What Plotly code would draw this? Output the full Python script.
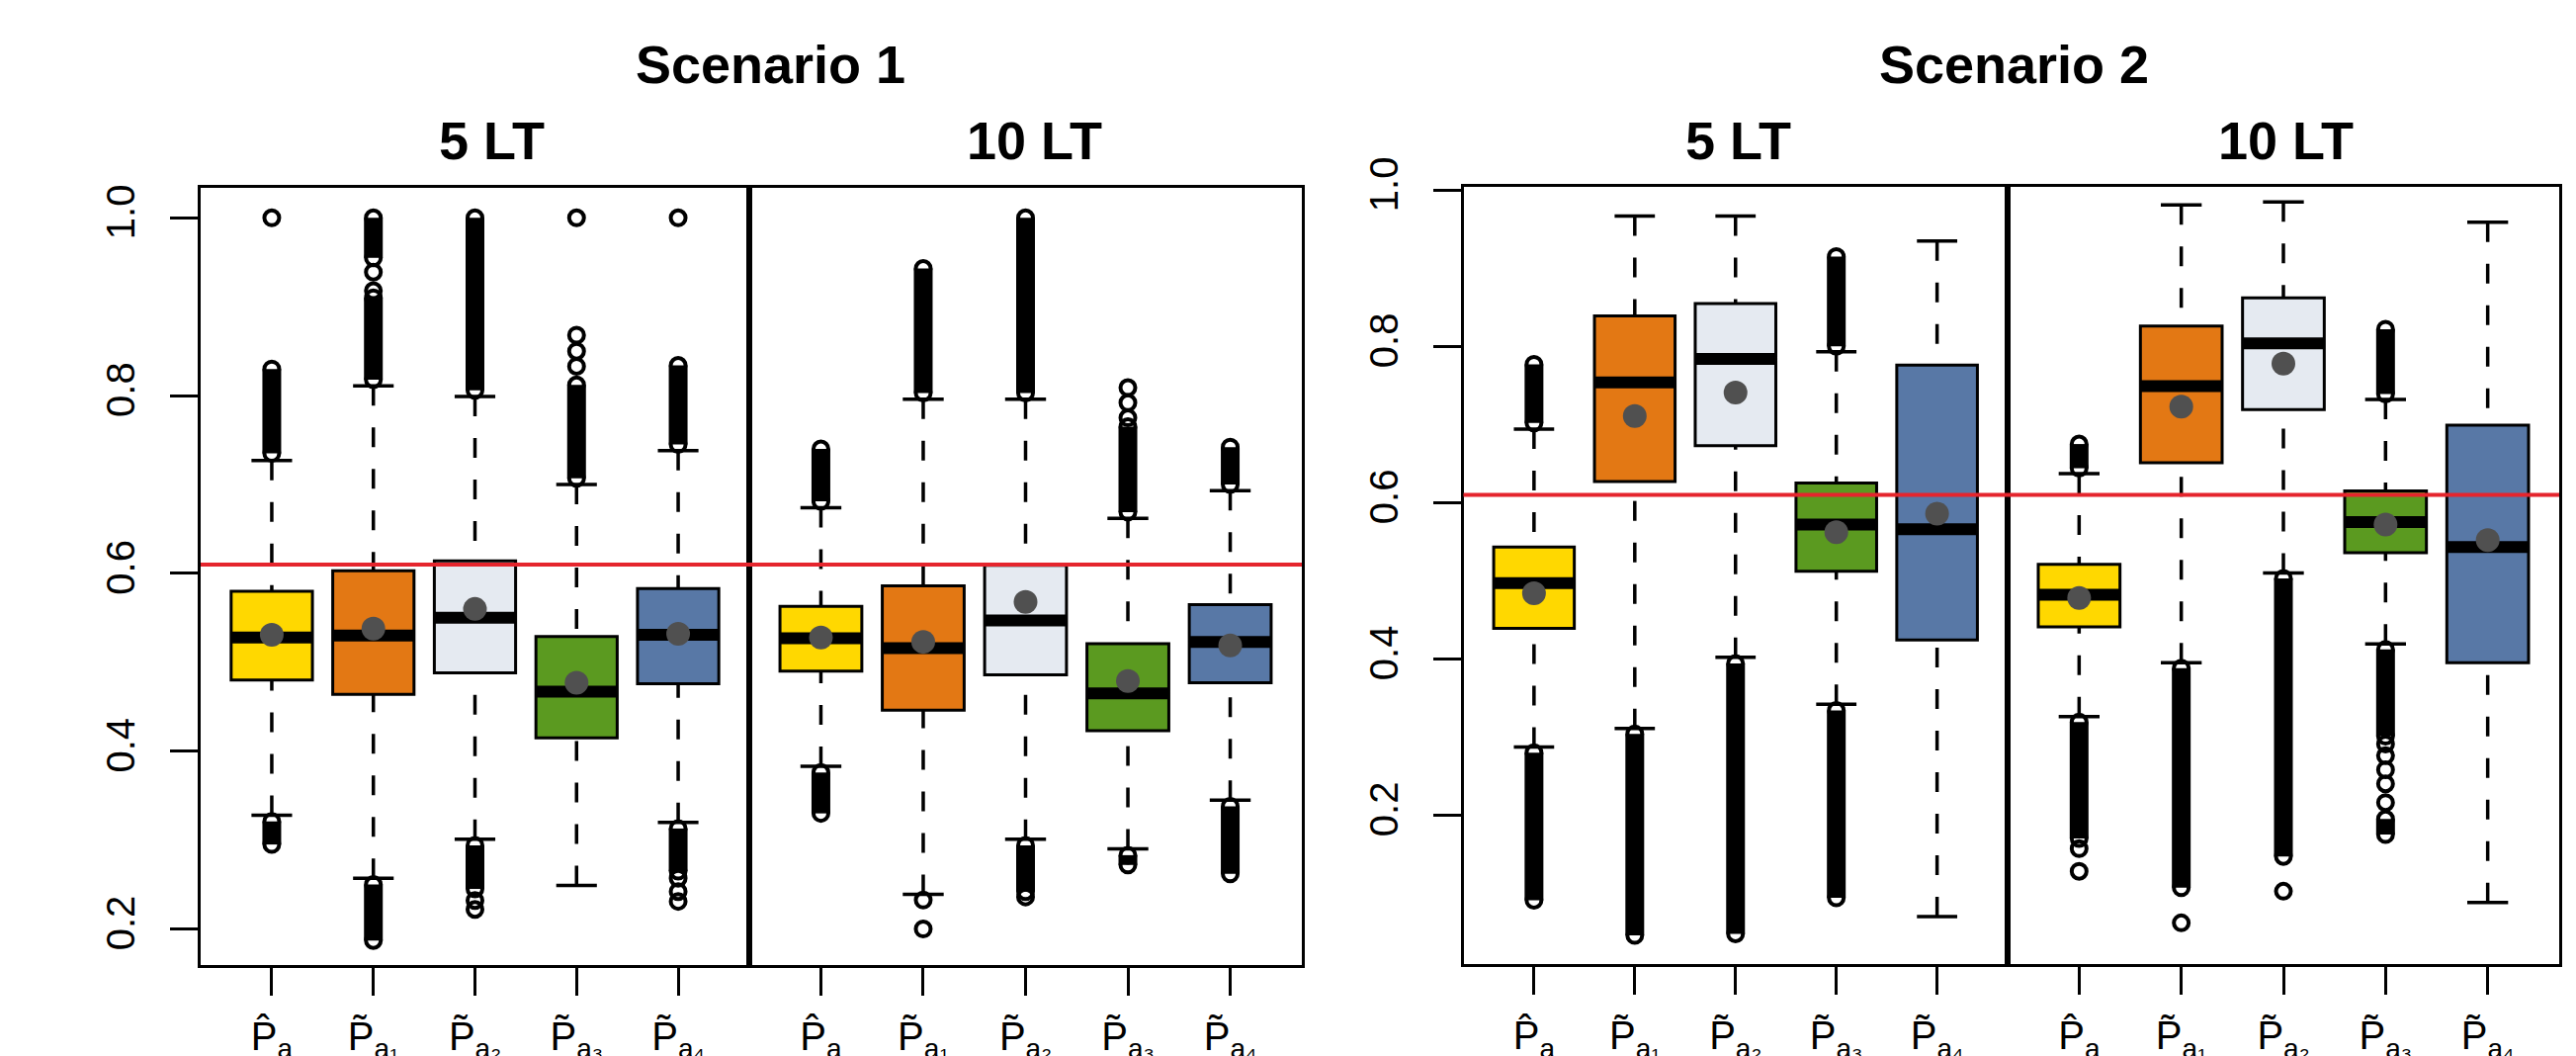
import plotly.graph_objects as go

W, H = 2606, 1068

# ---------------- data ----------------
POSITIONS = [1, 2, 3, 4, 5]
TICK_LABELS = ["P\u0302<sub>a</sub>", "P\u0303<sub>a\u2081</sub>", "P\u0303<sub>a\u2082</sub>",
               "P\u0303<sub>a\u2083</sub>", "P\u0303<sub>a\u2084</sub>"]
FILL_COLORS = ["#FFD800", "#E37814", "#E5EAF1", "#5B9A20", "#5878A6"]
REF_LINE = 0.61
Y_TICKS = [0.2, 0.4, 0.6, 0.8, 1.0]
SCENARIO_TITLES = ["Scenario 1", "Scenario 2"]
PANEL_TITLES = ["5 LT", "10 LT"]

# Scenario 1, 5 LT
s1_lt5_q1 = [0.480, 0.464, 0.488, 0.415, 0.476]
s1_lt5_med = [0.528, 0.530, 0.550, 0.467, 0.531]
s1_lt5_q3 = [0.580, 0.603, 0.614, 0.529, 0.583]
s1_lt5_lo = [0.328, 0.257, 0.301, 0.249, 0.320]
s1_lt5_hi = [0.727, 0.811, 0.799, 0.700, 0.738]
s1_lt5_mean = [0.531, 0.538, 0.560, 0.477, 0.532]
s1_lt5_out_dense = [[(0.735, 0.830), (0.295, 0.321)],
                    [(0.818, 0.910), (0.955, 1.000), (0.187, 0.250)],
                    [(0.806, 1.000), (0.245, 0.294)],
                    [(0.707, 0.812)],
                    [(0.745, 0.834), (0.265, 0.313)]]
s1_lt5_out_pts = [[1.0], [0.918, 0.939], [0.232, 0.222], [0.833, 0.850, 0.868, 1.0],
                  [1.0, 0.257, 0.242, 0.231]]

# Scenario 1, 10 LT
s1_lt10_q1 = [0.490, 0.446, 0.486, 0.423, 0.477]
s1_lt10_med = [0.527, 0.516, 0.547, 0.465, 0.523]
s1_lt10_q3 = [0.563, 0.586, 0.609, 0.521, 0.565]
s1_lt10_lo = [0.383, 0.239, 0.301, 0.290, 0.345]
s1_lt10_hi = [0.674, 0.796, 0.796, 0.662, 0.693]
s1_lt10_mean = [0.528, 0.523, 0.568, 0.479, 0.519]
s1_lt10_out_dense = [[(0.681, 0.740), (0.330, 0.376)],
                     [(0.803, 0.943)],
                     [(0.803, 1.000), (0.242, 0.294)],
                     [(0.669, 0.765), (0.272, 0.283)],
                     [(0.700, 0.742), (0.262, 0.338)]]
s1_lt10_out_pts = [[], [0.2325, 0.200], [0.236], [0.775, 0.792, 0.809], []]

# Scenario 2, 5 LT
s2_lt5_q1 = [0.439, 0.627, 0.673, 0.512, 0.424]
s2_lt5_med = [0.497, 0.754, 0.784, 0.572, 0.566]
s2_lt5_q3 = [0.543, 0.839, 0.855, 0.625, 0.776]
s2_lt5_lo = [0.287, 0.311, 0.402, 0.342, 0.070]
s2_lt5_hi = [0.694, 0.967, 0.967, 0.793, 0.935]
s2_lt5_mean = [0.484, 0.711, 0.741, 0.562, 0.586]
s2_lt5_out_dense = [[(0.702, 0.777), (0.091, 0.280)],
                    [(0.046, 0.304)],
                    [(0.048, 0.394)],
                    [(0.800, 0.915), (0.094, 0.334)],
                    []]
s2_lt5_out_pts = [[], [], [], [], []]

# Scenario 2, 10 LT
s2_lt10_q1 = [0.441, 0.651, 0.719, 0.536, 0.395]
s2_lt10_med = [0.482, 0.749, 0.804, 0.575, 0.543]
s2_lt10_q3 = [0.521, 0.826, 0.862, 0.615, 0.699]
s2_lt10_lo = [0.326, 0.395, 0.510, 0.419, 0.088]
s2_lt10_hi = [0.637, 0.981, 0.985, 0.732, 0.959]
s2_lt10_mean = [0.478, 0.723, 0.778, 0.572, 0.552]
s2_lt10_out_dense = [[(0.644, 0.675), (0.170, 0.319)],
                     [(0.107, 0.388)],
                     [(0.147, 0.503)],
                     [(0.739, 0.822), (0.301, 0.412), (0.175, 0.195)],
                     []]
s2_lt10_out_pts = [[0.157, 0.128], [0.062], [0.1025], [0.291, 0.276, 0.258, 0.240, 0.216], []]

# ---------------- layout geometry ----------------
S1_YRANGE = [0.1594, 1.0334]
S2_YRANGE = [0.0089, 1.0046]
X_RANGE = [0.3, 5.7]
BOX_WIDTH = 0.8
STAPLE_HALF = 0.2

panels = [
    dict(ax="", q1=s1_lt5_q1, med=s1_lt5_med, q3=s1_lt5_q3, lo=s1_lt5_lo, hi=s1_lt5_hi,
         mean=s1_lt5_mean, dense=s1_lt5_out_dense, pts=s1_lt5_out_pts,
         xdom=[195, 750], ydom=[182.3, 968], yrange=S1_YRANGE, ylabels=True),
    dict(ax="2", q1=s1_lt10_q1, med=s1_lt10_med, q3=s1_lt10_q3, lo=s1_lt10_lo, hi=s1_lt10_hi,
         mean=s1_lt10_mean, dense=s1_lt10_out_dense, pts=s1_lt10_out_pts,
         xdom=[750, 1309], ydom=[182.3, 968], yrange=S1_YRANGE, ylabels=False),
    dict(ax="3", q1=s2_lt5_q1, med=s2_lt5_med, q3=s2_lt5_q3, lo=s2_lt5_lo, hi=s2_lt5_hi,
         mean=s2_lt5_mean, dense=s2_lt5_out_dense, pts=s2_lt5_out_pts,
         xdom=[1472.5, 2023], ydom=[180.7, 967.3], yrange=S2_YRANGE, ylabels=True),
    dict(ax="4", q1=s2_lt10_q1, med=s2_lt10_med, q3=s2_lt10_q3, lo=s2_lt10_lo, hi=s2_lt10_hi,
         mean=s2_lt10_mean, dense=s2_lt10_out_dense, pts=s2_lt10_out_pts,
         xdom=[2023, 2581], ydom=[180.7, 967.3], yrange=S2_YRANGE, ylabels=False),
]

FONT = "Liberation Sans, Arial, sans-serif"
fig = go.Figure()
layout = dict(width=W, height=H, margin=dict(l=0, r=0, t=0, b=0),
              paper_bgcolor="white", plot_bgcolor="white", showlegend=False,
              boxmode="overlay", shapes=[], annotations=[])

for p in panels:
    xa, ya = "x" + p["ax"], "y" + p["ax"]
    # boxes
    for i, pos in enumerate(POSITIONS):
        fig.add_trace(go.Box(x=[pos], q1=[p["q1"][i]], median=[p["med"][i]], q3=[p["q3"][i]],
                             width=BOX_WIDTH, fillcolor=FILL_COLORS[i], whiskerwidth=0,
                             line=dict(color="black", width=3), xaxis=xa, yaxis=ya,
                             hoverinfo="skip"))
    # whiskers (dashed, drawn from whisker end toward the box)
    wx, wy = [], []
    for i, pos in enumerate(POSITIONS):
        wx += [pos, pos, None, pos, pos, None]
        wy += [p["hi"][i], p["q3"][i], None, p["lo"][i], p["q1"][i], None]
    fig.add_trace(go.Scatter(x=wx, y=wy, mode="lines", xaxis=xa, yaxis=ya,
                             line=dict(color="black", width=3.5, dash="20px,22px"), hoverinfo="skip"))
    # staples
    sx, sy = [], []
    for i, pos in enumerate(POSITIONS):
        for v in (p["hi"][i], p["lo"][i]):
            sx += [pos - STAPLE_HALF, pos + STAPLE_HALF, None]
            sy += [v, v, None]
    fig.add_trace(go.Scatter(x=sx, y=sy, mode="lines", xaxis=xa, yaxis=ya,
                             line=dict(color="black", width=3.5), hoverinfo="skip"))
    # medians (thick)
    mx, my = [], []
    for i, pos in enumerate(POSITIONS):
        mx += [pos - BOX_WIDTH / 2, pos + BOX_WIDTH / 2, None]
        my += [p["med"][i], p["med"][i], None]
    fig.add_trace(go.Scatter(x=mx, y=my, mode="lines", xaxis=xa, yaxis=ya,
                             line=dict(color="black", width=12), hoverinfo="skip"))
    # outliers: dense runs of overlapping circles + isolated circles
    dx, dy, ox, oy = [], [], [], []
    for i, pos in enumerate(POSITIONS):
        for lo, hi in p["dense"][i]:
            dx += [pos, pos, None]
            dy += [lo, hi, None]
            ox += [pos, pos]
            oy += [lo, hi]
        for v in p["pts"][i]:
            ox.append(pos)
            oy.append(v)
    fig.add_trace(go.Scatter(x=dx, y=dy, mode="lines", xaxis=xa, yaxis=ya,
                             line=dict(color="black", width=19), hoverinfo="skip"))
    fig.add_trace(go.Scatter(x=ox, y=oy, mode="markers", xaxis=xa, yaxis=ya,
                             marker=dict(symbol="circle-open", size=15, color="black",
                                         line=dict(width=4, color="black")),
                             hoverinfo="skip"))
    # means
    fig.add_trace(go.Scatter(x=POSITIONS, y=p["mean"], mode="markers", xaxis=xa, yaxis=ya,
                             marker=dict(size=24, color="#505050"), hoverinfo="skip"))

    xkey = "xaxis" + p["ax"]
    ykey = "yaxis" + p["ax"]
    layout[xkey] = dict(domain=[p["xdom"][0] / W, p["xdom"][1] / W], range=X_RANGE,
                        anchor=ya, tickvals=POSITIONS, ticktext=TICK_LABELS,
                        showline=True, mirror=True, linewidth=3, linecolor="black",
                        ticks="outside", ticklen=28, tickwidth=3, tickcolor="black",
                        showgrid=False, zeroline=False, automargin=False,
                        tickfont=dict(family=FONT, size=40, color="black"),
                        ticklabelstandoff=7)
    layout[ykey] = dict(domain=[1 - p["ydom"][1] / H, 1 - p["ydom"][0] / H], range=p["yrange"],
                        anchor=xa, tickvals=Y_TICKS if p["ylabels"] else [],
                        tickformat=".1f", tickangle=-90,
                        showline=True, mirror=True, linewidth=3, linecolor="black",
                        ticks="outside" if p["ylabels"] else "", ticklen=28, tickwidth=3,
                        tickcolor="black", showticklabels=p["ylabels"],
                        showgrid=False, zeroline=False, automargin=False,
                        tickfont=dict(family=FONT, size=40, color="black"),
                        ticklabelstandoff=20)
    layout["shapes"].append(dict(type="line", xref=xa + " domain", x0=0, x1=1, yref=ya,
                                 y0=REF_LINE, y1=REF_LINE, layer="above",
                                 line=dict(color="#E5252D", width=4)))

# titles
title_specs = [(SCENARIO_TITLES[0], 771, 57), (SCENARIO_TITLES[1], 2029, 57),
               (PANEL_TITLES[0], 489, 134), (PANEL_TITLES[1], 1038, 134),
               (PANEL_TITLES[0], 1750, 134), (PANEL_TITLES[1], 2304, 134)]
for txt, px, py in title_specs:
    layout["annotations"].append(dict(text=txt, x=px / W, y=1 - py / H, xref="paper", yref="paper",
                                      xanchor="center", yanchor="middle", showarrow=False,
                                      font=dict(family=FONT, size=54, color="black", weight="bold")))

fig.update_layout(**layout)
fig.write_html("out.html")
